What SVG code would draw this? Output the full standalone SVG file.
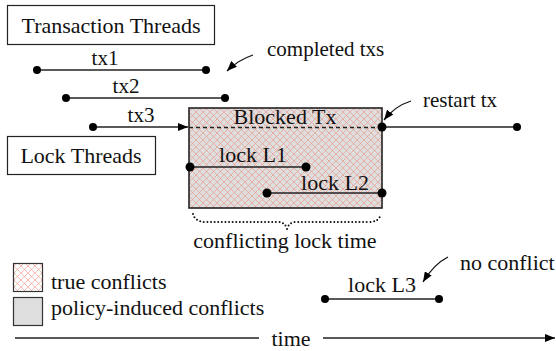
<svg xmlns="http://www.w3.org/2000/svg" width="556" height="351" viewBox="0 0 556 351">
  <defs>
    <style>
      text { font-family: "Liberation Serif", "Times New Roman", serif; fill: #111; }
      .t22 { font-size: 22px; }
      .t21 { font-size: 21px; }
      .title { fill: #fff; stroke: #222; stroke-width: 1.2; }
      .seg { stroke: #222; stroke-width: 1.6; fill: none; }
      .dot { fill: #000; }
      .call { stroke: #111; stroke-width: 1.3; fill: none; }
    </style>
    <pattern id="hatch" patternUnits="userSpaceOnUse" width="7" height="7">
      <path d="M0,0 L7,7 M7,0 L0,7 M-1,6 L1,8 M6,-1 L8,1 M-1,1 L1,-1 M6,8 L8,6" stroke="#ec8a78" stroke-width="0.55" fill="none"/>
    </pattern>
    <marker id="tip" markerWidth="10" markerHeight="8" refX="10" refY="4" orient="auto" markerUnits="userSpaceOnUse">
      <path d="M0,0 L10,4 L0,8 Z" fill="#000"/>
    </marker>
  </defs>

  <!-- thread headings -->
  <g id="transaction-threads">
    <rect class="title" x="7.5" y="5.5" width="207" height="39"/>
    <text class="t22" x="111" y="33" text-anchor="middle">Transaction Threads</text>
  </g>
  <g id="lock-threads">
    <rect class="title" x="7.5" y="136.5" width="148" height="38"/>
    <text class="t22" x="81" y="163" text-anchor="middle">Lock Threads</text>
  </g>

  <!-- blocked transaction region -->
  <g id="blocked-tx">
    <rect x="189" y="108" width="193" height="100" fill="#dedede"/>
    <rect x="189" y="108" width="193" height="100" fill="url(#hatch)" stroke="#222" stroke-width="1.6"/>
    <text class="t22" x="285" y="124" text-anchor="middle">Blocked Tx</text>
  </g>

  <!-- transactions -->
  <g id="tx1">
    <text class="t21" x="105" y="65" text-anchor="middle">tx1</text>
  </g>
  <g id="tx2">
    <text class="t21" x="126" y="93" text-anchor="middle">tx2</text>
  </g>
  <g id="tx3">
    <text class="t21" x="141" y="122" text-anchor="middle">tx3</text>
  </g>
  <g id="lock-l1">
    <text class="t22" x="253" y="162" text-anchor="middle">lock L1</text>
  </g>
  <g id="lock-l2">
    <text class="t22" x="335" y="190" text-anchor="middle">lock L2</text>
  </g>
  <g id="lock-l3">
    <text class="t22" x="382" y="292" text-anchor="middle">lock L3</text>
  </g>

  <!-- annotations -->
  <g id="completed-note">
    <text class="t21" x="267" y="56">completed txs</text>
  </g>
  <g id="restart-note">
    <text class="t21" x="423" y="107">restart tx</text>
  </g>
  <g id="no-conflict-note">
    <text class="t22" x="460" y="270">no conflict</text>
  </g>
  <g id="conflict-time">
    <text class="t22" x="285" y="248" text-anchor="middle">conflicting lock time</text>
  </g>

  <!-- legend -->
  <g id="legend-true">
    <rect x="13.5" y="263.5" width="29" height="28" fill="#fff"/>
    <rect x="13.5" y="263.5" width="29" height="28" fill="url(#hatch)" stroke="#333" stroke-width="1.2"/>
    <text class="t22" x="51" y="289">true conflicts</text>
  </g>
  <g id="legend-policy">
    <rect x="13.5" y="297.5" width="29" height="28" fill="#dedede" stroke="#333" stroke-width="1.2"/>
    <text class="t22" x="51" y="315">policy-induced conflicts</text>
  </g>
  <g id="time-axis">
    <text class="t22" x="291" y="346" text-anchor="middle">time</text>
  </g>

  <!-- connectors -->
  <g id="connectors">
    <line class="seg" x1="37" y1="70" x2="206" y2="70"/>
    <line class="seg" x1="66" y1="98" x2="225" y2="98"/>
    <line class="seg" x1="93" y1="127" x2="188" y2="127" marker-end="url(#tip)"/>
    <line x1="189" y1="127.5" x2="382" y2="127.5" stroke="#222" stroke-width="1.4" stroke-dasharray="4 3"/>
    <line class="seg" x1="382" y1="127" x2="517" y2="127"/>
    <line class="seg" x1="190" y1="167" x2="306" y2="167"/>
    <line class="seg" x1="267" y1="193" x2="382" y2="193"/>
    <line class="seg" x1="325" y1="299" x2="439" y2="299"/>

    <circle class="dot" cx="37" cy="70" r="4"/>
    <circle class="dot" cx="206" cy="70" r="4"/>
    <circle class="dot" cx="66" cy="98" r="4"/>
    <circle class="dot" cx="225" cy="98" r="4"/>
    <circle class="dot" cx="93" cy="127" r="4"/>
    <circle class="dot" cx="382" cy="127" r="4.5"/>
    <circle class="dot" cx="517" cy="127" r="4"/>
    <circle class="dot" cx="190" cy="167" r="4.5"/>
    <circle class="dot" cx="306" cy="167" r="4.5"/>
    <circle class="dot" cx="267" cy="193" r="4.5"/>
    <circle class="dot" cx="382" cy="193" r="4.5"/>
    <circle class="dot" cx="325" cy="299" r="4"/>
    <circle class="dot" cx="439" cy="299" r="4"/>

    <!-- callout arrows -->
    <path class="call" d="M253,55 Q238,60 227,71" marker-end="url(#tip)"/>
    <path class="call" d="M411,101 Q395,106 384,120" marker-end="url(#tip)"/>
    <path class="call" d="M448,257 Q434,264 423,282" marker-end="url(#tip)"/>

    <!-- brace under the blocked region -->
    <path d="M193,214 Q195,222 206,222 L278,222 Q285,222 287,229 Q289,222 296,222 L369,222 Q379,222 381,214" fill="none" stroke="#111" stroke-width="2" stroke-linecap="round" stroke-dasharray="0 3.6"/>

    <!-- time axis -->
    <line class="seg" x1="15" y1="338" x2="259" y2="338"/>
    <line class="seg" x1="323" y1="338" x2="555" y2="338" marker-end="url(#tip)"/>
  </g>
</svg>
